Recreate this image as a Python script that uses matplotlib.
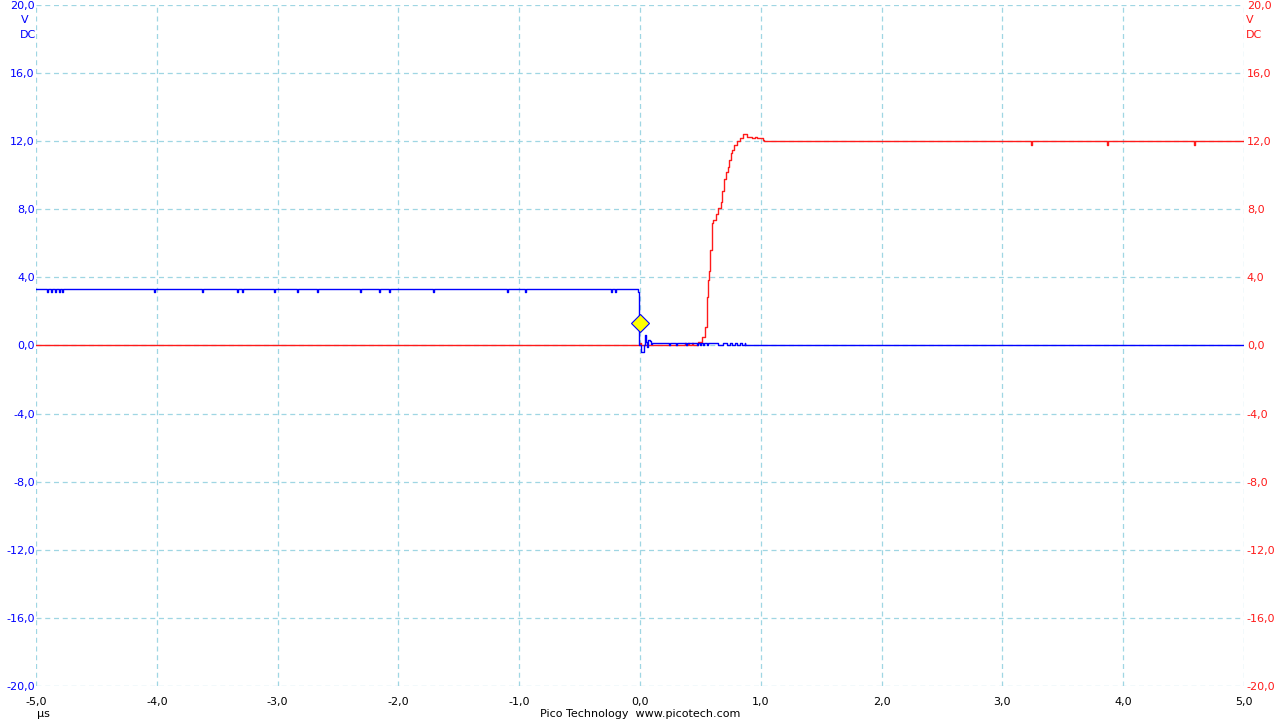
import numpy as np
import matplotlib.pyplot as plt

# channel A (blue), values in V, time in us
blue_high = 3.3
blue_dip = 3.12
blue_dips = [-4.909, -4.876, -4.843, -4.810, -4.785, -4.021, -3.628, -3.339,
             -3.292, -3.027, -2.837, -2.676, -2.318, -2.158, -2.075, -1.711,
             -1.104, -0.952, -0.243, -0.207]
blue_fall_t = [-0.02, -0.005, 0.010, 0.030, 0.040, 0.050, 0.055, 0.070, 0.080, 0.089, 0.100]
blue_fall_v = [3.15, 0.0, -0.36, 0.05, 0.60, 0.20, -0.07, 0.32, 0.25, 0.09, 0.14]
blue_low = 0.14
blue_low_dips = [0.243, 0.298, 0.381, 0.469, 0.497, 0.524, 0.552]
blue_wiggles = [(0.646, 0.687), (0.720, 0.745), (0.762, 0.786), (0.803, 0.828), (0.844, 0.869)]
blue_end_t = 0.869
blue_end_v = 0.0

# channel B (red)
red_blips = [0.0, 0.373, 0.40, 0.43]
red_rise_t = [0.470, 0.483, 0.510, 0.538, 0.552, 0.557, 0.565, 0.573, 0.580, 0.594,
              0.598, 0.604, 0.629, 0.646, 0.668, 0.679, 0.695, 0.709, 0.726, 0.737,
              0.753, 0.762, 0.778, 0.800, 0.828, 0.853, 0.883, 0.925, 0.952, 0.970,
              1.018, 1.030]
red_rise_v = [0.0, 0.22, 0.51, 1.1, 1.9, 2.87, 3.85, 4.4, 5.6, 6.4,
              7.2, 7.4, 7.7, 8.1, 8.45, 9.1, 9.8, 10.2, 10.5, 10.9,
              11.3, 11.5, 11.8, 12.03, 12.2, 12.4, 12.27, 12.17, 12.27, 12.17,
              12.07, 12.0]
red_high = 12.0
red_dips = [3.24, 3.87, 4.59]

trigger = (0.0, 1.32)

x_ticks = np.arange(-5, 6, 1)
y_ticks = np.arange(-20, 21, 4)


def fmt(v):
    return f"{v:.1f}".replace(".", ",")


# build step traces
bt, bv = [-5.0], [blue_high]
for d in blue_dips:
    bt += [d, d + 0.008]
    bv += [blue_dip, blue_high]
bt += blue_fall_t
bv += blue_fall_v
for d in blue_low_dips:
    bt += [d, d + 0.008]
    bv += [0.0, blue_low]
for a, b in blue_wiggles:
    bt += [a, b]
    bv += [0.0, blue_low]
bt += [blue_end_t, 5.0]
bv += [blue_end_v, blue_end_v]

rt, rv = [-5.0], [0.0]
for d in red_blips:
    rt += [d, d + 0.006]
    rv += [0.12, 0.0]
rt += red_rise_t
rv += red_rise_v
for d in red_dips:
    rt += [d, d + 0.008]
    rv += [11.8, red_high]
rt += [5.0]
rv += [red_high]

blue = "#0000ff"
red = "#ff1a1a"
grid_c = "#9fd6e3"

fig = plt.figure(figsize=(12.8, 7.2), dpi=100)
ax = fig.add_axes([36 / 1280, 1 - 686 / 720, 1208 / 1280, 681 / 720])
ax2 = ax.twinx()

ax.plot(rt, rv, color=red, lw=1.0, drawstyle="steps-post", zorder=3)
ax.plot(bt, bv, color=blue, lw=1.0, drawstyle="steps-post", zorder=4)
ax.plot(*trigger, marker="D", ms=9, mfc="#ffff00", mec=blue, mew=0.8, zorder=5)

for a in (ax, ax2):
    a.set_xlim(-5, 5)
    a.set_ylim(-20, 20)
    for s in a.spines.values():
        s.set_visible(False)
    a.set_yticks(y_ticks)
    a.set_yticklabels([fmt(v) for v in y_ticks])

ax.set_xticks(x_ticks)
ax.set_xticklabels([fmt(v) for v in x_ticks])
ax.grid(True, color=grid_c, ls=(0, (4, 3)), lw=0.9)
ax.tick_params(axis="both", length=0, labelsize=8)
ax.tick_params(axis="y", colors=blue, pad=1)
ax.tick_params(axis="x", colors="black", pad=8)
ax2.tick_params(axis="y", length=0, labelsize=8, colors=red, pad=2)

fig.text(24.5 / 1280, 1 - 20 / 720, "V", color=blue, fontsize=8, ha="center", va="center")
fig.text(36.5 / 1280, 1 - 35 / 720, "DC", color=blue, fontsize=8, ha="right", va="center")
fig.text(1246 / 1280, 1 - 20 / 720, "V", color=red, fontsize=8, ha="left", va="center")
fig.text(1246 / 1280, 1 - 35 / 720, "DC", color=red, fontsize=8, ha="left", va="center")
fig.text(43 / 1280, 1 - 714 / 720, "µs", color="black", fontsize=8, ha="center", va="center")
fig.text(640 / 1280, 1 - 714 / 720, "Pico Technology  www.picotech.com", color="black",
         fontsize=8, ha="center", va="center")

fig.savefig("out.png", dpi=100)
